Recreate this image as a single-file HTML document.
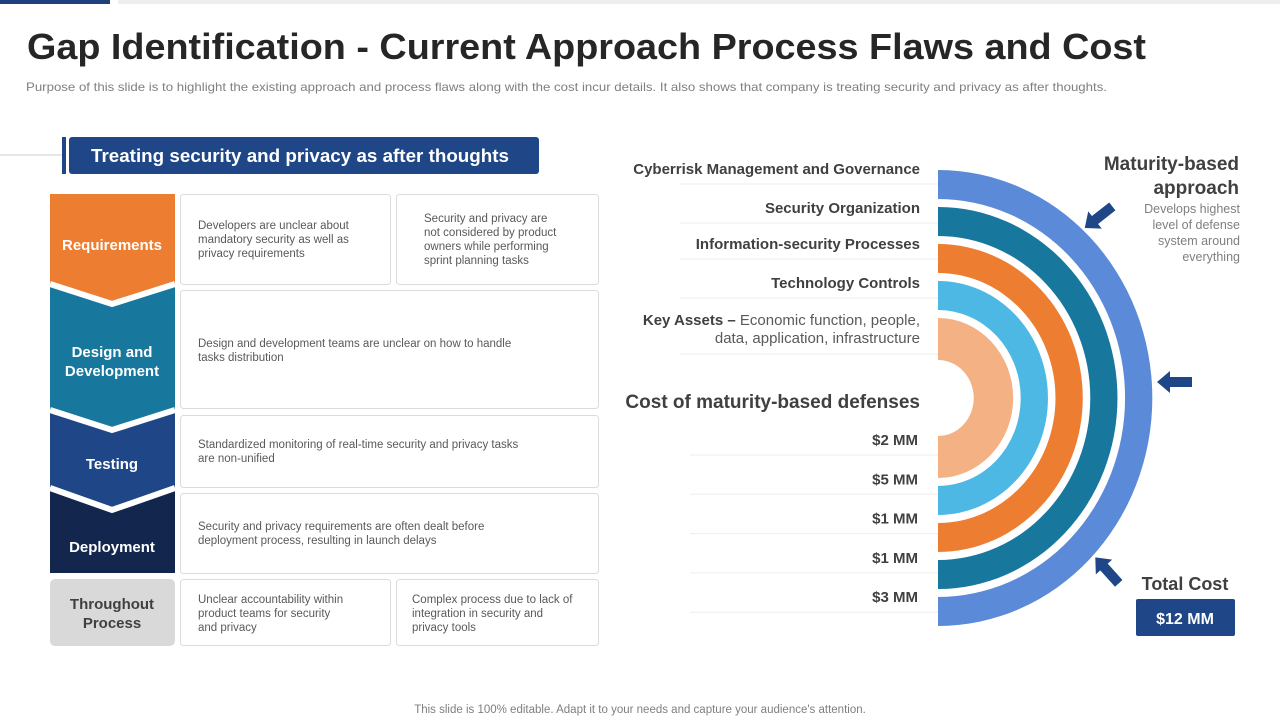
<!DOCTYPE html>
<html><head><meta charset="utf-8"><style>
html,body{margin:0;padding:0;background:#fff;}
svg{display:block;font-family:"Liberation Sans",sans-serif;}
</style></head><body>
<svg id="s" width="1280" height="720" viewBox="0 0 1280 720">
<rect x="0" y="0" width="110" height="4" fill="#1f3f7f"/>
<rect x="118" y="0" width="1162" height="4" fill="#eeeeee"/>
<text x="27" y="59" font-size="36" font-weight="bold" fill="#262626" textLength="1119" lengthAdjust="spacingAndGlyphs">Gap Identification - Current Approach Process Flaws and Cost</text>
<text x="26" y="91" font-size="12" fill="#7f7f7f" textLength="1081" lengthAdjust="spacingAndGlyphs">Purpose of this slide is to highlight the existing approach and process flaws along with the cost incur details. It also shows that company is treating security and privacy as after thoughts.</text>

<line x1="0" y1="155" x2="62" y2="155" stroke="#cfcfcf"/>
<rect x="62" y="137" width="4" height="37" fill="#1f4788"/>
<rect x="69" y="137" width="470" height="37" rx="3" fill="#1f4788"/>
<text x="300" y="162" font-size="18" font-weight="bold" fill="#fff" text-anchor="middle" textLength="418" lengthAdjust="spacingAndGlyphs">Treating security and privacy as after thoughts</text>

<g>
<rect x="50" y="579" width="125" height="67" rx="5" fill="#d9d9d9"/>
<polygon points="50,490 175,490 175,573 50,573" fill="#12264e"/>
<polygon points="50,410 175,410 175,488 112,510 50,488" fill="#1f4788"/>
<polyline points="50,488 112,510 175,488" fill="none" stroke="#fff" stroke-width="6"/>
<polygon points="50,286 175,286 175,410 112,430 50,410" fill="#17779c"/>
<polyline points="50,410 112,430 175,410" fill="none" stroke="#fff" stroke-width="6"/>
<polygon points="50,194 175,194 175,284 112,304 50,284" fill="#ed7d31"/>
<polyline points="50,284 112,304 175,284" fill="none" stroke="#fff" stroke-width="6"/>
<text x="112" y="250" font-size="15" font-weight="bold" fill="#fff" text-anchor="middle">Requirements</text>
<text x="112" y="357" font-size="15" font-weight="bold" fill="#fff" text-anchor="middle"><tspan x="112">Design and</tspan><tspan x="112" dy="19">Development</tspan></text>
<text x="112" y="469" font-size="15" font-weight="bold" fill="#fff" text-anchor="middle">Testing</text>
<text x="112" y="552" font-size="15" font-weight="bold" fill="#fff" text-anchor="middle">Deployment</text>
<text x="112" y="609" font-size="15" font-weight="bold" fill="#404040" text-anchor="middle"><tspan x="112">Throughout</tspan><tspan x="112" dy="19">Process</tspan></text>
</g>

<g font-size="11.5" fill="#595959">
<rect x="180.5" y="194.5" width="210" height="90" rx="3" fill="#fff" stroke="#dcdcdc"/>
<text x="198" y="229"><tspan x="198">Developers are unclear about</tspan><tspan x="198" dy="14">mandatory security as well as</tspan><tspan x="198" dy="14">privacy requirements</tspan></text>
<rect x="396.5" y="194.5" width="202" height="90" rx="3" fill="#fff" stroke="#dcdcdc"/>
<text x="424" y="222"><tspan x="424">Security and privacy are</tspan><tspan x="424" dy="14">not considered by product</tspan><tspan x="424" dy="14">owners while performing</tspan><tspan x="424" dy="14">sprint planning tasks</tspan></text>
<rect x="180.5" y="290.5" width="418" height="118" rx="3" fill="#fff" stroke="#dcdcdc"/>
<text x="198" y="347"><tspan x="198">Design and development teams are unclear on how to handle</tspan><tspan x="198" dy="14">tasks distribution</tspan></text>
<rect x="180.5" y="415.5" width="418" height="72" rx="3" fill="#fff" stroke="#dcdcdc"/>
<text x="198" y="448"><tspan x="198">Standardized monitoring of real-time security and privacy tasks</tspan><tspan x="198" dy="14">are non-unified</tspan></text>
<rect x="180.5" y="493.5" width="418" height="80" rx="3" fill="#fff" stroke="#dcdcdc"/>
<text x="198" y="530"><tspan x="198">Security and privacy requirements are often dealt before</tspan><tspan x="198" dy="14">deployment process, resulting in launch delays</tspan></text>
<rect x="180.5" y="579.5" width="210" height="66" rx="3" fill="#fff" stroke="#dcdcdc"/>
<text x="198" y="603"><tspan x="198">Unclear accountability within</tspan><tspan x="198" dy="14">product teams for security</tspan><tspan x="198" dy="14">and privacy</tspan></text>
<rect x="396.5" y="579.5" width="202" height="66" rx="3" fill="#fff" stroke="#dcdcdc"/>
<text x="412" y="603"><tspan x="412">Complex process due to lack of</tspan><tspan x="412" dy="14">integration in security and</tspan><tspan x="412" dy="14">privacy tools</tspan></text>
</g>

<g id="chart"></g>

<text x="1239" y="170" font-size="19" font-weight="bold" fill="#404040" text-anchor="end"><tspan x="1239">Maturity-based</tspan><tspan x="1239" dy="24">approach</tspan></text>
<text x="1240" y="213" font-size="12.5" fill="#7f7f7f" text-anchor="end"><tspan x="1240">Develops  highest</tspan><tspan x="1240" dy="16">level  of defense</tspan><tspan x="1240" dy="16">system around</tspan><tspan x="1240" dy="16">everything</tspan></text>
<polygon points="0,-5 22,-5 22,5 0,5 0,11 -13,0 0,-11" fill="#1f4788" transform="translate(1095,220) rotate(-38)"/>
<polygon points="0,-5 22,-5 22,5 0,5 0,11 -13,0 0,-11" fill="#1f4788" transform="translate(1170,382)"/>
<polygon points="0,-5 22,-5 22,5 0,5 0,11 -13,0 0,-11" fill="#1f4788" transform="translate(1104,567) rotate(48)"/>
<text x="1185" y="590" font-size="18" font-weight="bold" fill="#404040" text-anchor="middle">Total Cost</text>
<rect x="1136" y="599" width="99" height="37" rx="2" fill="#1f4788"/>
<text x="1185" y="624" font-size="16" font-weight="bold" fill="#fff" text-anchor="middle">$12 MM</text>

<text x="640" y="713" font-size="11.5" fill="#7f7f7f" text-anchor="middle">This slide is 100% editable. Adapt it to your needs and capture your audience's attention.</text>
</svg>
<script>
const layers = ["Cyberrisk Management and Governance","Security Organization","Information-security Processes","Technology Controls","Key Assets"];
const costs = [2,5,1,1,3];
const ringColors = ["#5b8ad8","#17779c","#ed7d31","#4db8e3","#f4b183"];
const NS="http://www.w3.org/2000/svg";
const g=document.getElementById('chart');
const cx=938, cy=398, sx=0.94;
const outerR=228, innerR=38, gap=8, band=29;
function mk(t,a){const e=document.createElementNS(NS,t);for(const k in a)e.setAttribute(k,a[k]);g.appendChild(e);return e;}
layers.forEach((l,i)=>{
  const ro=outerR-i*(band+gap), ri=i===layers.length-1?innerR:ro-band;
  const d=`M${cx},${cy-ro} A${ro*sx},${ro} 0 0 1 ${cx},${cy+ro} L${cx},${cy+ri} A${ri*sx},${ri} 0 0 0 ${cx},${cy-ri} Z`;
  const p=mk('path',{d:d,fill:ringColors[i]});
  
  
});
const labelY=[174,213,249,288];
layers.slice(0,4).forEach((l,i)=>{
  const t=mk('text',{x:920,y:labelY[i],'font-size':15,'font-weight':'bold',fill:'#404040','text-anchor':'end'});
  t.textContent=l;
  
  
  const ln=mk('line',{x1:680,x2:938,y1:labelY[i]+10,y2:labelY[i]+10,stroke:'#eeeeee'});
  
  
});
const ka=mk('text',{x:920,y:325,'font-size':15,fill:'#595959','text-anchor':'end'});
ka.innerHTML='<tspan font-weight="bold" fill="#404040">Key Assets – </tspan>Economic function, people,';


const ka2=mk('text',{x:920,y:343,'font-size':15,fill:'#595959','text-anchor':'end'});
ka2.textContent='data, application, infrastructure';


mk('line',{x1:680,x2:938,y1:354,y2:354,stroke:'#eeeeee'});
const ct=mk('text',{x:920,y:408,'font-size':19,'font-weight':'bold',fill:'#404040','text-anchor':'end'});
ct.textContent='Cost of maturity-based defenses';


costs.forEach((c,i)=>{
  const y=445+i*39.3;
  const t=mk('text',{x:918,y:y,'font-size':15,'font-weight':'bold',fill:'#404040','text-anchor':'end'});
  t.textContent='$'+c+' MM';
  
  
  const ln=mk('line',{x1:690,x2:938,y1:y+10,y2:y+10,stroke:'#eeeeee'});
  
  
});
</script>
</body></html>
